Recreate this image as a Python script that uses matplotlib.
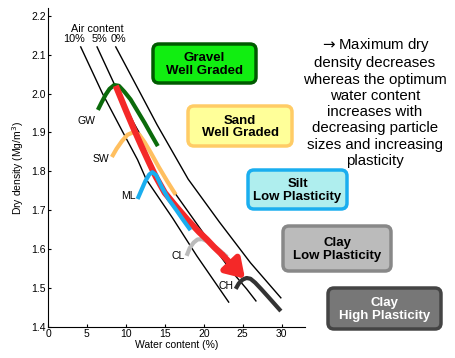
import numpy as np
import matplotlib
matplotlib.use('Agg')
import matplotlib.pyplot as plt
from matplotlib.patches import FancyBboxPatch

plt.rcParams['font.family'] = ['Liberation Sans', 'DejaVu Sans']

# air content lines
air0_w = [8.7, 11.7, 14.0, 18.0, 22.0, 26.0, 29.9]
air0_d = [2.12, 2.007, 1.92, 1.78, 1.67, 1.565, 1.475]
air5_w = [6.3, 8.5, 11.0, 13.6, 16.2, 20.0, 23.5, 25.5, 26.7]
air5_d = [2.12, 2.025, 1.925, 1.832, 1.747, 1.64, 1.545, 1.498, 1.467]
air10_w = [4.2, 7.0, 9.5, 11.5, 12.6, 16.0, 19.1, 23.2]
air10_d = [2.12, 2.0, 1.905, 1.83, 1.78, 1.68, 1.583, 1.464]

# compaction curves per soil
gw_w = [6.4, 6.9, 7.4, 7.9, 8.5, 9.1, 9.8, 10.6, 11.5, 12.4, 13.3, 14.1]
gw_d = [1.958, 1.978, 1.997, 2.012, 2.022, 2.02, 2.005, 1.985, 1.955, 1.925, 1.893, 1.865]
sw_w = [8.2, 8.8, 9.5, 10.2, 11.0, 11.7, 12.4, 13.2, 14.2, 15.3, 16.4]
sw_d = [1.837, 1.858, 1.878, 1.894, 1.901, 1.895, 1.875, 1.848, 1.812, 1.775, 1.74]
ml_w = [11.5, 12.0, 12.5, 13.0, 13.4, 13.9, 14.6, 15.5, 16.5, 17.4, 18.3]
ml_d = [1.729, 1.752, 1.775, 1.792, 1.798, 1.79, 1.76, 1.728, 1.70, 1.674, 1.649]
cl_w = [17.8, 18.2, 18.7, 19.2, 19.8, 20.5, 21.3, 22.2, 23.0]
cl_d = [1.583, 1.603, 1.617, 1.625, 1.626, 1.62, 1.608, 1.594, 1.58]
ch_w = [24.1, 24.5, 25.0, 25.5, 26.0, 26.6, 27.4, 28.3, 29.1, 29.9]
ch_d = [1.498, 1.512, 1.522, 1.526, 1.524, 1.514, 1.497, 1.477, 1.459, 1.441]

# trend of the optimum (red arrow)
trend_w = [8.7, 10.0, 11.0, 12.0, 12.95, 13.85, 15.0, 16.4, 17.9, 19.4, 20.4, 21.3, 22.4]
trend_d = [2.02, 1.957, 1.91, 1.865, 1.824, 1.786, 1.745, 1.711, 1.676, 1.644, 1.625, 1.606, 1.585]
arrow_tip = (25.3, 1.524)

fig = plt.figure(figsize=(4.55, 3.58), dpi=100)
ax = fig.add_axes([48/455, 31/358, 257/455, 319/358])
ax.patch.set_alpha(0)

ax.plot(air10_w, air10_d, color='black', lw=1.0)
ax.plot(air5_w, air5_d, color='black', lw=1.0)
ax.plot(air0_w, air0_d, color='black', lw=1.0)

ax.plot(gw_w, gw_d, color='#0B6B0B', lw=3, solid_capstyle='butt')
ax.plot(sw_w, sw_d, color='#FFBF5F', lw=3, solid_capstyle='butt')
ax.plot(cl_w, cl_d, color='#BBBBBB', lw=3, solid_capstyle='butt')
ax.plot(ch_w, ch_d, color='#333333', lw=3, solid_capstyle='butt')

ax.plot(trend_w, trend_d, color='#F42828', lw=4.5, solid_capstyle='butt')
ax.annotate('', xy=arrow_tip, xytext=(trend_w[-1], trend_d[-1]),
            arrowprops=dict(arrowstyle='-|>,head_length=1.1,head_width=0.7',
                            color='#F42828', lw=4.5, shrinkA=0, shrinkB=0))
ax.plot(ml_w, ml_d, color='#1AAEEF', lw=3, solid_capstyle='butt')

ax.text(6.1, 1.93, 'GW', fontsize=7.5, ha='right', va='center')
ax.text(7.9, 1.833, 'SW', fontsize=7.5, ha='right', va='center')
ax.text(11.2, 1.738, 'ML', fontsize=7.5, ha='right', va='center')
ax.text(17.5, 1.583, 'CL', fontsize=7.5, ha='right', va='center')
ax.text(23.8, 1.505, 'CH', fontsize=7.5, ha='right', va='center')
ax.text(6.3, 2.165, 'Air content', fontsize=7.8, ha='center', va='center')
ax.text(3.4, 2.14, '10%', fontsize=7.8, ha='center', va='center')
ax.text(6.6, 2.14, '5%', fontsize=7.8, ha='center', va='center')
ax.text(9.0, 2.14, '0%', fontsize=7.8, ha='center', va='center')

ax.set_xlim(0, 33)
ax.set_ylim(1.4, 2.22)
ax.set_xticks([0, 5, 10, 15, 20, 25, 30])
ax.set_yticks([1.4, 1.5, 1.6, 1.7, 1.8, 1.9, 2.0, 2.1, 2.2])
ax.set_yticklabels(['1.4', '1.5', '1.6', '1.7', '1.8', '1.9', '2.0', '2.1', '2.2'])
ax.tick_params(direction='in', length=2, width=0.8, labelsize=7.5, pad=1.5)
ax.spines['top'].set_visible(False)
ax.spines['right'].set_visible(False)
ax.set_xlabel('Water content (%)', fontsize=7.5, labelpad=1)
ax.set_ylabel('Dry density (Mg/m$^3$)', fontsize=7.5, labelpad=4)

# overlay in pixel coordinates for the boxes and the note
ov = fig.add_axes([0, 0, 1, 1])
ov.set_xlim(0, 455)
ov.set_ylim(358, 0)
ov.axis('off')
ov.patch.set_alpha(0)

boxes = [
    ((153, 44, 103, 39), '#11EE11', '#005A00', 'Gravel\nWell Graded', 'black'),
    ((188, 106, 104, 40), '#FFFF99', '#FFCC66', 'Sand\nWell Graded', 'black'),
    ((248, 170, 99, 39), '#AFEEEE', '#1AAEEF', 'Silt\nLow Plasticity', 'black'),
    ((283, 226, 108, 45), '#BBBBBB', '#888888', 'Clay\nLow Plasticity', 'black'),
    ((328, 288, 113, 41), '#777777', '#444444', 'Clay\nHigh Plasticity', 'white'),
]
for (x, y, w, h), fc, ec, label, tc in boxes:
    ov.add_patch(FancyBboxPatch((x, y), w, h, boxstyle='round,pad=0,rounding_size=6',
                                fc=fc, ec=ec, lw=2.5))
    ov.text(x + w / 2, y + h / 2 + 1, label, ha='center', va='center', fontsize=9.5,
            fontweight='bold', color=tc, linespacing=1.1)

note = ('$\\rightarrow$Maximum dry\ndensity decreases\nwhereas the optimum\nwater content\n'
        'increases with\ndecreasing particle\nsizes and increasing\nplasticity')
ov.text(375, 102, note, ha='center', va='center', fontsize=10.8, linespacing=1.2)

fig.savefig('out.png', dpi=100)
